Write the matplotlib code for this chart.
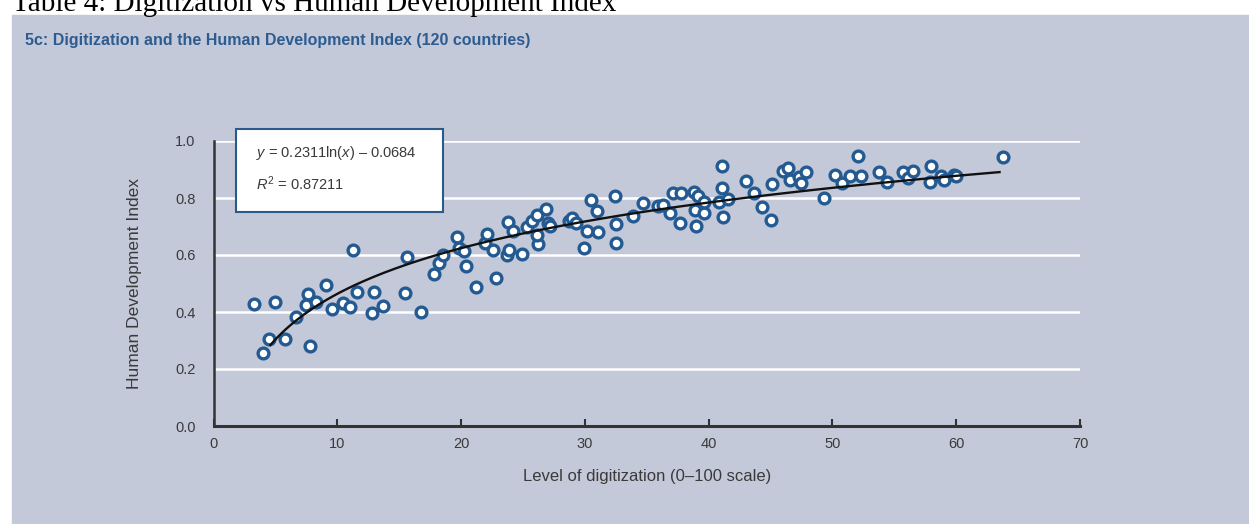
import numpy as np
import matplotlib
matplotlib.use("Agg")
import matplotlib.pyplot as plt
from matplotlib.patches import Rectangle

# digitization score vs HDI, one point per country
digitization = [3.3, 5.0, 4.0, 4.5, 5.8, 6.7, 7.6, 7.5, 8.3, 7.8, 9.1, 9.6, 10.5, 11.0, 11.3,
                11.6, 13.0, 13.7, 12.8, 15.6, 15.5, 16.8,
                17.8, 18.2, 18.5, 19.7, 19.8, 20.2, 20.4, 21.2, 21.9, 22.1, 22.6, 22.8, 23.7,
                23.8, 23.9, 24.2, 24.9, 25.3, 25.7, 26.1, 26.2, 26.1, 26.9, 27.0, 27.2, 28.7,
                29.0, 29.3, 29.9, 30.2, 30.5, 31.0, 31.1, 32.4, 32.5, 32.5,
                33.9, 34.7, 35.9, 36.3, 36.9, 37.1, 37.8, 37.7, 38.8, 38.9, 39.0, 39.1, 39.6,
                39.6, 40.8, 41.1, 41.1, 41.2, 41.6, 43.0, 43.7, 44.3, 45.0, 45.1, 46.0, 46.4,
                46.6, 47.3, 47.5, 47.9,
                49.3, 50.2, 50.8, 51.4, 52.1, 52.3, 53.8, 54.4, 55.7, 56.1, 56.5, 58.0, 57.9,
                58.8, 59.0, 59.8, 60.0, 63.8]
hdi = [0.427, 0.435, 0.257, 0.304, 0.306, 0.382, 0.463, 0.425, 0.435, 0.281, 0.496, 0.409,
       0.430, 0.418, 0.618, 0.471, 0.469, 0.422, 0.396, 0.592, 0.468, 0.401,
       0.533, 0.571, 0.600, 0.662, 0.625, 0.613, 0.561, 0.489, 0.643, 0.674, 0.618, 0.519,
       0.600, 0.716, 0.618, 0.685, 0.604, 0.697, 0.718, 0.739, 0.639, 0.670, 0.762, 0.713,
       0.702, 0.720, 0.730, 0.711, 0.623, 0.685, 0.793, 0.753, 0.682, 0.807, 0.709, 0.643,
       0.737, 0.781, 0.772, 0.775, 0.746, 0.816, 0.819, 0.713, 0.822, 0.758, 0.702, 0.807,
       0.749, 0.787, 0.787, 0.912, 0.834, 0.734, 0.795, 0.861, 0.816, 0.770, 0.723, 0.849,
       0.896, 0.904, 0.863, 0.873, 0.852, 0.892,
       0.799, 0.881, 0.852, 0.877, 0.947, 0.877, 0.892, 0.856, 0.892, 0.869, 0.896, 0.912,
       0.857, 0.877, 0.863, 0.881, 0.877, 0.945]

# log trend line
fit_a = 0.2311
fit_b = -0.0684
r_squared = 0.87211
fit_range = (4.6, 63.5)

x_ticks = [0, 10, 20, 30, 40, 50, 60, 70]
y_ticks = [0.0, 0.2, 0.4, 0.6, 0.8, 1.0]

plt.rcParams['font.family'] = ['Liberation Sans', 'DejaVu Sans']
plt.rcParams['mathtext.fontset'] = 'custom'
plt.rcParams['mathtext.rm'] = 'Liberation Sans'
plt.rcParams['mathtext.it'] = 'Liberation Sans:italic'

W, H = 1249, 524
fig = plt.figure(figsize=(W / 100, H / 100), dpi=100, facecolor='white')

panel = '#c4c9da'
blue = '#245a92'
dark = '#333333'
txt = '#3a3a3a'

fig.patches.append(Rectangle((12 / W, 0), 1 - 12 / W, (H - 15) / H,
                             transform=fig.transFigure, color=panel, zorder=-10))

fig.text(12 / W, 1 - 11 / H, 'Table 4: Digitization vs Human Development Index',
         family='Liberation Serif', fontsize=21, va='baseline', ha='left', color='black')
fig.text(25 / W, 1 - 40 / H,
         '5c: Digitization and the Human Development Index (120 countries)',
         fontsize=11.5, fontweight='bold', color='#2c5c90', va='center', ha='left')

ax = fig.add_axes([213.5 / W, (H - 426) / H, (1080 - 213.5) / W, (426 - 141) / H])
ax.set_facecolor('none')
ax.set_xlim(0, 70)
ax.set_ylim(0, 1.0)
ax.set_xticks(x_ticks)
ax.set_yticks(y_ticks)
ax.set_xticklabels([str(t) for t in x_ticks])
ax.set_yticklabels(['%.1f' % t for t in y_ticks])
ax.yaxis.grid(True, color='white', linewidth=1.8)
ax.set_axisbelow(True)

for s in ['top', 'right']:
    ax.spines[s].set_visible(False)
ax.spines['left'].set_color(dark)
ax.spines['left'].set_linewidth(1.8)
ax.spines['bottom'].set_color(dark)
ax.spines['bottom'].set_linewidth(2.2)

ax.tick_params(axis='x', direction='in', length=5, width=1.5, color=dark,
               labelsize=10.5, labelcolor=txt, pad=8)
ax.tick_params(axis='y', length=0, labelsize=10.5, labelcolor=txt, pad=13)

ax.scatter(digitization, hdi, s=60, facecolor='white', edgecolor=blue,
           linewidth=2.4, zorder=3, clip_on=False)

xf = np.linspace(fit_range[0], fit_range[1], 200)
ax.plot(xf, fit_a * np.log(xf) + fit_b, color='#111111', linewidth=1.7, zorder=4)

ax.set_ylabel('Human Development Index', fontsize=12.5, color=txt, labelpad=24)
ax.set_xlabel('Level of digitization (0\u2013100 scale)', fontsize=12, color=txt,
              labelpad=13)

# equation box
fig.patches.append(Rectangle((236 / W, (H - 212) / H), 207 / W, 83 / H,
                             transform=fig.transFigure, facecolor='white',
                             edgecolor='#2b5a8a', linewidth=1.5, zorder=5))
fig.text(256 / W, 1 - 153 / H,
         '$y$ = %.4fln($x$) \u2013 %.4f' % (fit_a, -fit_b),
         fontsize=10.5, color=txt, va='center', ha='left', zorder=6)
fig.text(256 / W, 1 - 184 / H, '$R^2$ = %.5f' % r_squared,
         fontsize=10.5, color=txt, va='center', ha='left', zorder=6)

fig.savefig('out.png', dpi=100, facecolor='white')
